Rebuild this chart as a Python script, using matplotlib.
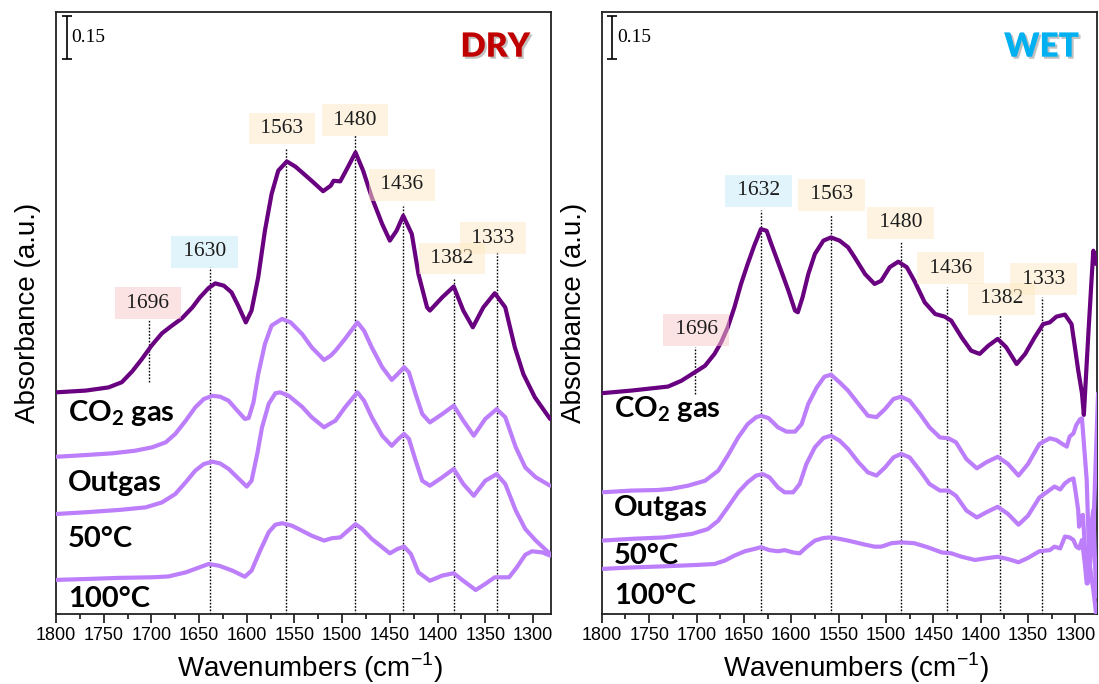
import matplotlib.pyplot as plt
import matplotlib.patheffects as pe
from matplotlib.ticker import MultipleLocator

plt.rcParams['font.family'] = ['Liberation Sans', 'DejaVu Sans']

# ---- DRY panel spectra (wavenumber, stacked absorbance) ----
dry_co2_wn = [1800, 1769, 1745, 1731, 1720, 1710, 1700, 1689, 1680, 1668,
              1657, 1649, 1640, 1633, 1624, 1616, 1609, 1601, 1595, 1588,
              1581, 1574, 1567, 1558, 1549, 1542, 1532, 1520, 1512, 1509,
              1502, 1495, 1486, 1478, 1469, 1458, 1450, 1443, 1436, 1427,
              1420, 1411, 1408, 1395, 1383, 1373, 1363, 1352, 1340, 1329,
              1319, 1310, 1298, 1282]
dry_co2_abs = [0.767, 0.773, 0.784, 0.802, 0.840, 0.882, 0.928, 0.971, 0.994, 1.023,
               1.061, 1.096, 1.128, 1.144, 1.136, 1.113, 1.067, 1.009, 1.050, 1.165,
               1.326, 1.453, 1.534, 1.566, 1.548, 1.528, 1.499, 1.463, 1.482, 1.499,
               1.497, 1.540, 1.597, 1.534, 1.442, 1.349, 1.292, 1.326, 1.378, 1.315,
               1.176, 1.061, 1.050, 1.096, 1.133, 1.050, 0.992, 1.061, 1.110, 1.061,
               0.923, 0.830, 0.750, 0.675]

dry_outgas_wn = [1800, 1769, 1741, 1717, 1699, 1685, 1675, 1664, 1654, 1645,
                 1636, 1628, 1619, 1610, 1602, 1598, 1593, 1588, 1581, 1574,
                 1563, 1554, 1542, 1532, 1519, 1512, 1507, 1497, 1484, 1477,
                 1469, 1458, 1448, 1441, 1435, 1430, 1423, 1416, 1408, 1395,
                 1383, 1373, 1362, 1350, 1338, 1329, 1318, 1308, 1297, 1282]
dry_outgas_abs = [0.544, 0.550, 0.556, 0.565, 0.577, 0.594, 0.623, 0.669, 0.715, 0.744,
                  0.755, 0.752, 0.738, 0.704, 0.675, 0.678, 0.732, 0.830, 0.934, 0.998,
                  1.021, 1.009, 0.969, 0.923, 0.879, 0.894, 0.911, 0.952, 1.009, 0.980,
                  0.923, 0.854, 0.810, 0.833, 0.854, 0.836, 0.761, 0.692, 0.663, 0.692,
                  0.721, 0.669, 0.617, 0.675, 0.709, 0.681, 0.577, 0.507, 0.473, 0.444]

dry_50c_wn = [1800, 1769, 1734, 1706, 1689, 1675, 1664, 1654, 1645, 1636,
              1628, 1619, 1610, 1600, 1595, 1589, 1584, 1577, 1570, 1565,
              1556, 1542, 1532, 1519, 1512, 1507, 1497, 1484, 1477, 1469,
              1458, 1448, 1441, 1435, 1430, 1423, 1416, 1408, 1395, 1383,
              1373, 1362, 1350, 1338, 1329, 1318, 1308, 1297, 1282]
dry_50c_abs = [0.346, 0.352, 0.360, 0.369, 0.386, 0.415, 0.456, 0.496, 0.519, 0.527,
               0.521, 0.502, 0.473, 0.441, 0.461, 0.554, 0.646, 0.727, 0.764, 0.767,
               0.755, 0.717, 0.681, 0.646, 0.660, 0.669, 0.715, 0.767, 0.738, 0.681,
               0.617, 0.582, 0.606, 0.623, 0.606, 0.531, 0.461, 0.444, 0.473, 0.502,
               0.450, 0.409, 0.461, 0.484, 0.450, 0.358, 0.294, 0.254, 0.208]

dry_100c_wn = [1800, 1769, 1734, 1699, 1682, 1664, 1650, 1640, 1629, 1615,
               1602, 1595, 1586, 1577, 1570, 1563, 1553, 1542, 1532, 1519,
               1511, 1502, 1493, 1486, 1479, 1469, 1458, 1450, 1442, 1435,
               1428, 1420, 1408, 1395, 1383, 1373, 1360, 1350, 1340, 1325,
               1317, 1308, 1301, 1290, 1282]
dry_100c_abs = [0.118, 0.121, 0.125, 0.127, 0.130, 0.144, 0.161, 0.173, 0.167, 0.150,
                0.129, 0.150, 0.219, 0.283, 0.309, 0.314, 0.306, 0.288, 0.271, 0.254,
                0.262, 0.265, 0.291, 0.311, 0.294, 0.260, 0.231, 0.210, 0.225, 0.233,
                0.208, 0.144, 0.115, 0.133, 0.141, 0.115, 0.083, 0.104, 0.127, 0.127,
                0.161, 0.205, 0.217, 0.213, 0.202]

# ---- WET panel spectra ----
wet_co2_wn = [1800, 1769, 1730, 1716, 1702, 1691, 1681, 1674, 1667, 1660,
              1653, 1646, 1639, 1632, 1626, 1621, 1612, 1603, 1596, 1593,
              1588, 1582, 1575, 1566, 1558, 1549,
              1540, 1533, 1522, 1512, 1505, 1496, 1487, 1478, 1470, 1459,
              1448, 1438, 1431, 1420, 1410, 1401, 1392, 1382, 1373, 1362,
              1353, 1343, 1334, 1327, 1320, 1311, 1304, 1300, 1297, 1293,
              1291, 1288, 1286, 1283, 1281, 1278]
wet_co2_abs = [0.764, 0.773, 0.787, 0.807, 0.836, 0.859, 0.900, 0.940, 0.992, 1.061,
               1.142, 1.211, 1.275, 1.332, 1.326, 1.280, 1.200, 1.119, 1.050, 1.044,
               1.096, 1.176, 1.246, 1.292, 1.303, 1.292,
               1.269, 1.234, 1.176, 1.142, 1.153, 1.200, 1.219, 1.200, 1.153, 1.078,
               1.038, 1.029, 1.015, 0.957, 0.911, 0.900, 0.928, 0.952, 0.923, 0.865,
               0.900, 0.957, 1.003, 1.009, 1.029, 1.036, 1.003, 0.913, 0.844, 0.764,
               0.689, 0.867, 0.983, 1.150, 1.257, 1.211]

wet_outgas_wn = [1800, 1769, 1741, 1727, 1709, 1691, 1677, 1667, 1656, 1646,
                 1637, 1632, 1624, 1614, 1605, 1596, 1589, 1582, 1573, 1565,
                 1558, 1549,
                 1540, 1529, 1519, 1510, 1501, 1492, 1484, 1475, 1464, 1454,
                 1443, 1434, 1426, 1415, 1404, 1394, 1382, 1371, 1360, 1350,
                 1338, 1327, 1320, 1315, 1309, 1306, 1302, 1299, 1295, 1293,
                 1288, 1285, 1281, 1276]
wet_outgas_abs = [0.421, 0.427, 0.429, 0.433, 0.444, 0.461, 0.496, 0.548, 0.611, 0.657,
                  0.681, 0.686, 0.678, 0.646, 0.631, 0.631, 0.657, 0.727, 0.784, 0.821,
                  0.828, 0.802,
                  0.773, 0.727, 0.686, 0.681, 0.709, 0.744, 0.752, 0.738, 0.692, 0.646,
                  0.611, 0.608, 0.594, 0.536, 0.504, 0.525, 0.544, 0.519, 0.479, 0.519,
                  0.588, 0.608, 0.602, 0.591, 0.579, 0.614, 0.625, 0.654, 0.674, 0.677,
                  0.464, 0.152, 0.291, 0.764]

wet_50c_wn = [1800, 1769, 1734, 1705, 1688, 1677, 1667, 1656, 1646, 1637,
              1630, 1623, 1614, 1607, 1598, 1591, 1584, 1575, 1566, 1558,
              1549,
              1540, 1529, 1519, 1510, 1501, 1492, 1484, 1475, 1464, 1454,
              1443, 1434, 1426, 1415, 1404, 1394, 1382, 1371, 1360, 1350,
              1338, 1327, 1322, 1316, 1311, 1306, 1302, 1300, 1297, 1296,
              1294, 1292, 1288, 1287, 1284, 1281, 1278]
wet_50c_abs = [0.254, 0.260, 0.265, 0.277, 0.294, 0.323, 0.369, 0.421, 0.456, 0.479,
               0.484, 0.473, 0.438, 0.421, 0.421, 0.450, 0.519, 0.577, 0.609, 0.617,
               0.600,
               0.571, 0.525, 0.490, 0.479, 0.507, 0.542, 0.554, 0.542, 0.496, 0.450,
               0.427, 0.427, 0.409, 0.358, 0.334, 0.352, 0.371, 0.346, 0.309, 0.340,
               0.403, 0.429, 0.441, 0.431, 0.452, 0.464, 0.469, 0.429, 0.360, 0.302,
               0.337, 0.343, 0.129, 0.106, 0.291, 0.360, 0.060]

wet_100c_wn = [1800, 1769, 1734, 1698, 1681, 1670, 1660, 1649, 1639, 1632,
               1623, 1614, 1607, 1598, 1591, 1584, 1575, 1566, 1558, 1549,
               1540, 1522, 1512, 1505, 1494, 1484, 1470, 1456, 1441, 1431,
               1420, 1406, 1392, 1382, 1371, 1360, 1350, 1338,
               1327, 1322, 1316, 1311, 1306, 1302, 1299, 1296, 1293, 1290,
               1288, 1285, 1281, 1278]
wet_100c_abs = [0.156, 0.161, 0.165, 0.170, 0.173, 0.185, 0.202, 0.217, 0.225, 0.231,
                0.221, 0.217, 0.221, 0.213, 0.210, 0.231, 0.254, 0.263, 0.265, 0.260,
                0.254, 0.240, 0.233, 0.233, 0.245, 0.248, 0.245, 0.231, 0.213, 0.210,
                0.198, 0.187, 0.194, 0.198, 0.190, 0.179, 0.194, 0.217,
                0.221, 0.233, 0.227, 0.268, 0.265, 0.256, 0.233, 0.227, 0.256, 0.175,
                0.106, 0.175, 0.083, 0.000]

series_names = ['CO$_\\mathregular{2}$ gas', 'Outgas', '50°C', '100°C']
dry_name_abs = [0.667, 0.427, 0.231, 0.023]
wet_name_abs = [0.681, 0.340, 0.173, 0.035]

# band markers: dotted guide lines and tagged labels
dry_band_wn = [1702.6, 1638.5, 1559, 1486.6, 1436.6, 1382.8, 1338]
dry_band_top = [1.017, 1.202, 1.612, 1.657, 1.412, 1.163, 1.254]
dry_band_bottom = [0.803, 0, 0, 0, 0, 0, 0]
dry_tag_text = ['1696', '1630', '1563', '1480', '1436', '1382', '1333']
dry_tag_wn = [1703.6, 1644.5, 1563, 1486.6, 1437.3, 1384.9, 1341.9]
dry_tag_abs = [1.076, 1.253, 1.680, 1.708, 1.486, 1.230, 1.301]

wet_band_wn = [1701.3, 1631.5, 1557.6, 1483.7, 1435.2, 1379.9, 1334.8]
wet_band_top = [0.923, 1.398, 1.384, 1.288, 1.133, 1.035, 1.096]
wet_band_bottom = [0.761, 0, 0, 0, 0, 0, 0]
wet_tag_text = ['1696', '1632', '1563', '1480', '1436', '1382', '1333']
wet_tag_wn = [1700.2, 1634.5, 1557.4, 1484.6, 1431.8, 1377.9, 1333.4]
wet_tag_abs = [0.983, 1.464, 1.450, 1.353, 1.197, 1.091, 1.159]

tag_colors = ['#FBC9C9', '#C5E9F9', '#FDE9C3', '#FDE9C3', '#FDE9C3', '#FDE9C3', '#FDE9C3']

dark = '#690080'
light = '#BC7EFA'

fig = plt.figure(figsize=(10.99, 6.84), dpi=100)
ax_dry = fig.add_axes([0.05096, 0.10234, 0.4501, 0.8801])
ax_wet = fig.add_axes([0.5476, 0.10234, 0.4506, 0.8801])


def draw_panel(ax, curves, names_abs, band_wn, band_bottom, band_top,
               tag_text, tag_wn, tag_abs, title, title_color, right_lim):

    ax.vlines(band_wn, band_bottom, band_top, colors='k',
              linestyles=(0, (1.2, 1.2)), lw=1.0, zorder=1)

    for i, (wn, ab) in enumerate(curves):
        ax.plot(wn, ab, color=dark if i == 0 else light, lw=3.0,
                solid_joinstyle='round', solid_capstyle='round', zorder=3)

    for name, a in zip(series_names, names_abs):
        ax.text(1787.3, a, name, ha='left', va='baseline', fontsize=21,
                family=['Lato', 'DejaVu Sans'], fontweight='bold', zorder=5)

    for t, x, y, c in zip(tag_text, tag_wn, tag_abs, tag_colors):
        ax.text(x, y, ' ' + t + ' ', ha='center', va='center', fontsize=15.5,
                family=['Liberation Serif', 'DejaVu Serif'], color='#1c1c1c',
                bbox=dict(boxstyle='square,pad=0.3', fc=c, ec='none', alpha=0.5),
                zorder=4)

    # 0.15 absorbance scale bar
    ax.errorbar([1788.8], [1.994], yerr=0.075, color='k', lw=1.2,
                capsize=3.6, capthick=1.2, zorder=5)
    ax.text(1783.6, 1.996, '0.15', ha='left', va='center', fontsize=14,
            family=['Liberation Serif', 'DejaVu Serif'])

    ax.text(0.888, 0.9424, title, transform=ax.transAxes, ha='center', va='center',
            fontsize=24, fontweight='heavy', color=title_color,
            family=['Lato', 'DejaVu Sans'],
            path_effects=[pe.withSimplePatchShadow(offset=(1.5, -1.5),
                                                   shadow_rgbFace='#777777', alpha=0.45)])

    ax.set_xlim(1800, right_lim)
    ax.set_ylim(0, 2.083)
    ax.set_yticks([])
    ax.xaxis.set_major_locator(MultipleLocator(50))
    ax.xaxis.set_minor_locator(MultipleLocator(25))
    ax.tick_params(axis='x', which='major', direction='out', length=6.5,
                   width=1.1, labelsize=13, pad=3)
    ax.tick_params(axis='x', which='minor', direction='out', length=3.5, width=1.1)
    for s in ax.spines.values():
        s.set_linewidth(1.3)
        s.set_color('#222222')

    ax.set_xlabel('Wavenumbers (cm$^{\\mathregular{-1}}$)', fontsize=20)
    ax.xaxis.set_label_coords(0.513, -0.060)
    ax.set_ylabel('Absorbance (a.u.)', fontsize=20)
    ax.yaxis.set_label_coords(-0.030, 0.5)


draw_panel(ax_dry,
           [(dry_co2_wn, dry_co2_abs), (dry_outgas_wn, dry_outgas_abs),
            (dry_50c_wn, dry_50c_abs), (dry_100c_wn, dry_100c_abs)],
           dry_name_abs, dry_band_wn, dry_band_bottom, dry_band_top,
           dry_tag_text, dry_tag_wn, dry_tag_abs, 'DRY', '#C00000', 1281.4)

draw_panel(ax_wet,
           [(wet_co2_wn, wet_co2_abs), (wet_outgas_wn, wet_outgas_abs),
            (wet_50c_wn, wet_50c_abs), (wet_100c_wn, wet_100c_abs)],
           wet_name_abs, wet_band_wn, wet_band_bottom, wet_band_top,
           wet_tag_text, wet_tag_wn, wet_tag_abs, 'WET', '#00B0F0', 1277.1)

fig.savefig('out.png', dpi=100)
